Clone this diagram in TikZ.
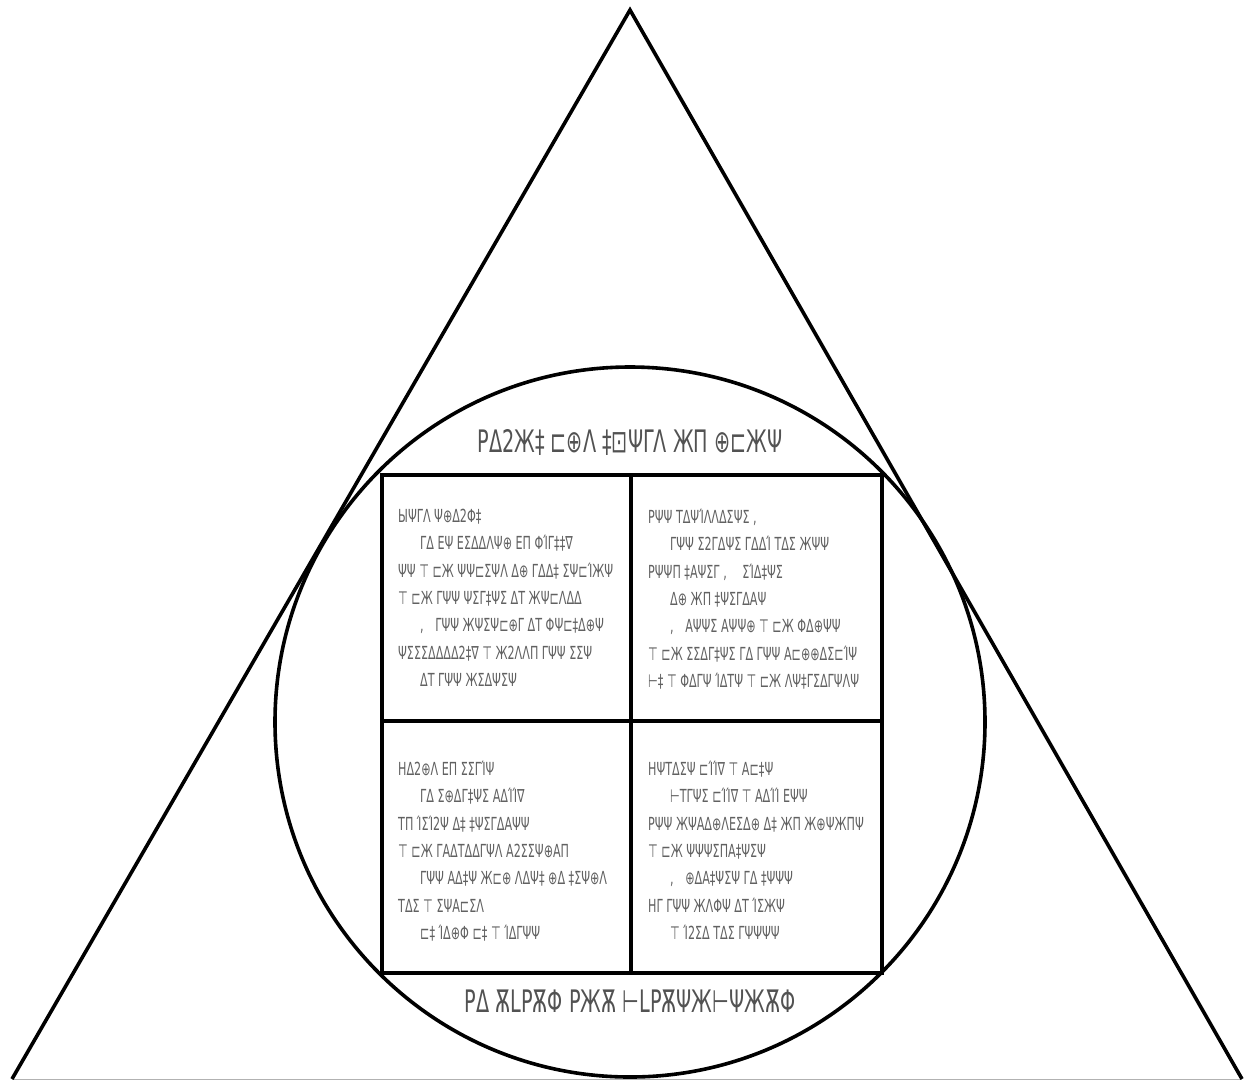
\documentclass[tikz,border=0pt]{standalone}
\usepackage{fontspec}
\usepackage{xcolor}
\newfontfamily\glyphfont[FakeStretch=0.62]{DejaVu Sans}
\newcommand{\ind}{\hspace*{22pt}}

\begin{document}
\begin{tikzpicture}[x=1pt,y=-1pt,
    heavy/.style={line width=3.6pt},
    quad/.style={anchor=north west,inner sep=0pt,align=left,text=black!62,
      font=\glyphfont\fontsize{18}{27.3}\selectfont},
    title/.style={inner sep=0pt,text=black!68,font=\glyphfont\fontsize{31}{34}\selectfont}]
  \useasboundingbox (0,0) rectangle (1244,1080);
  \coordinate (apex) at (630,10);
  \coordinate (lbase) at (12,1079);
  \coordinate (rbase) at (1242,1079);
  \draw[black!30,line width=1pt] (lbase) -- (rbase);
  \draw[heavy,line join=miter] (lbase) -- (apex) -- (rbase);
  \draw[heavy] (630,722) circle[radius=355];
  \draw[heavy] (382,475) rectangle (882,973);
  \draw[heavy] (631,475) -- (631,973);
  \draw[heavy] (382,721) -- (882,721);
  \node[title] (top) at (630,442) {ΡΔ2Ж‡ ⊏⊕Λ ‡⊡ΨΓΛ ЖΠ ⊕⊏ЖΨ};
  \node[title] (bottom) at (630,1001) {ΡΔ ѪLΡѪΦ ΡЖѪ ⊢LΡѪΨЖ⊢ΨЖѪΦ};
  \node[quad] (tl) at (398,509) {ЫΨΓΛ Ψ⊕Δ2Φ‡\\
    \ind ΓΔ ΕΨ ΕΣΔΔΛΨ⊕ ΕΠ ΦΊΓ‡‡∇\\
    ΨΨ ⊤ ⊏Ж ΨΨ⊏ΣΨΛ Δ⊕ ΓΔΔ‡ ΣΨ⊏ΊЖΨ\\
    ⊤ ⊏Ж ΓΨΨ ΨΣΓ‡ΨΣ ΔΤ ЖΨ⊏ΛΔΔ\\
    \ind ,\hspace*{8pt} ΓΨΨ ЖΨΣΨ⊏⊕Γ ΔΤ ΦΨ⊏‡Δ⊕Ψ\\
    ΨΣΣΣΔΔΔΔ2‡∇ ⊤ Ж2ΛΛΠ ΓΨΨ ΣΣΨ\\
    \ind ΔΤ ΓΨΨ ЖΣΔΨΣΨ};
  \node[quad] (tr) at (648,509) {ΡΨΨ ΤΔΨΊΛΛΔΣΨΣ ,\\
    \ind ΓΨΨ Σ2ΓΔΨΣ ΓΔΔΊ ΤΔΣ ЖΨΨ\\
    ΡΨΨΠ ‡ΑΨΣΓ ,\hspace*{12pt} ΣΊΔ‡ΨΣ\\
    \ind Δ⊕ ЖΠ ‡ΨΣΓΔΑΨ\\
    \ind ,\hspace*{8pt} ΑΨΨΣ ΑΨΨ⊕ ⊤ ⊏Ж ΦΔ⊕ΨΨ\\
    ⊤ ⊏Ж ΣΣΔΓ‡ΨΣ ΓΔ ΓΨΨ Α⊏⊕⊕ΔΣ⊏ΊΨ\\
    ⊢‡ ⊤ ΦΔΓΨ ΊΔΤΨ ⊤ ⊏Ж ΛΨ‡ΓΣΔΓΨΛΨ};
  \node[quad] (bl) at (398,761) {ΗΔ2⊕Λ ΕΠ ΣΣΓΊΨ\\
    \ind ΓΔ Σ⊕ΔΓ‡ΨΣ ΑΔΊΊ∇\\
    ΤΠ ΊΣΊ2Ψ Δ‡ ‡ΨΣΓΔΑΨΨ\\
    ⊤ ⊏Ж ΓΑΔΤΔΔΓΨΛ Α2ΣΣΨ⊕ΑΠ\\
    \ind ΓΨΨ ΑΔ‡Ψ Ж⊏⊕ ΛΔΨ‡ ⊕Δ ‡ΣΨ⊕Λ\\
    ΤΔΣ ⊤ ΣΨΑ⊏ΣΛ\\
    \ind ⊏‡ ΊΔ⊕Φ ⊏‡ ⊤ ΊΔΓΨΨ};
  \node[quad] (br) at (648,761) {ΗΨΤΔΣΨ ⊏ΊΊ∇ ⊤ Α⊏‡Ψ\\
    \ind ⊢ΤΓΨΣ ⊏ΊΊ∇ ⊤ ΑΔΊΊ ΕΨΨ\\
    ΡΨΨ ЖΨΑΔ⊕ΛΕΣΔ⊕ Δ‡ ЖΠ Ж⊕ΨЖΠΨ\\
    ⊤ ⊏Ж ΨΨΨΣΠΑ‡ΨΣΨ\\
    \ind ,\hspace*{8pt} ⊕ΔΑ‡ΨΣΨ ΓΔ ‡ΨΨΨ\\
    ΗΓ ΓΨΨ ЖΛΦΨ ΔΤ ΊΣЖΨ\\
    \ind ⊤ Ί2ΣΔ ΤΔΣ ΓΨΨΨΨ};
\end{tikzpicture}
\end{document}
